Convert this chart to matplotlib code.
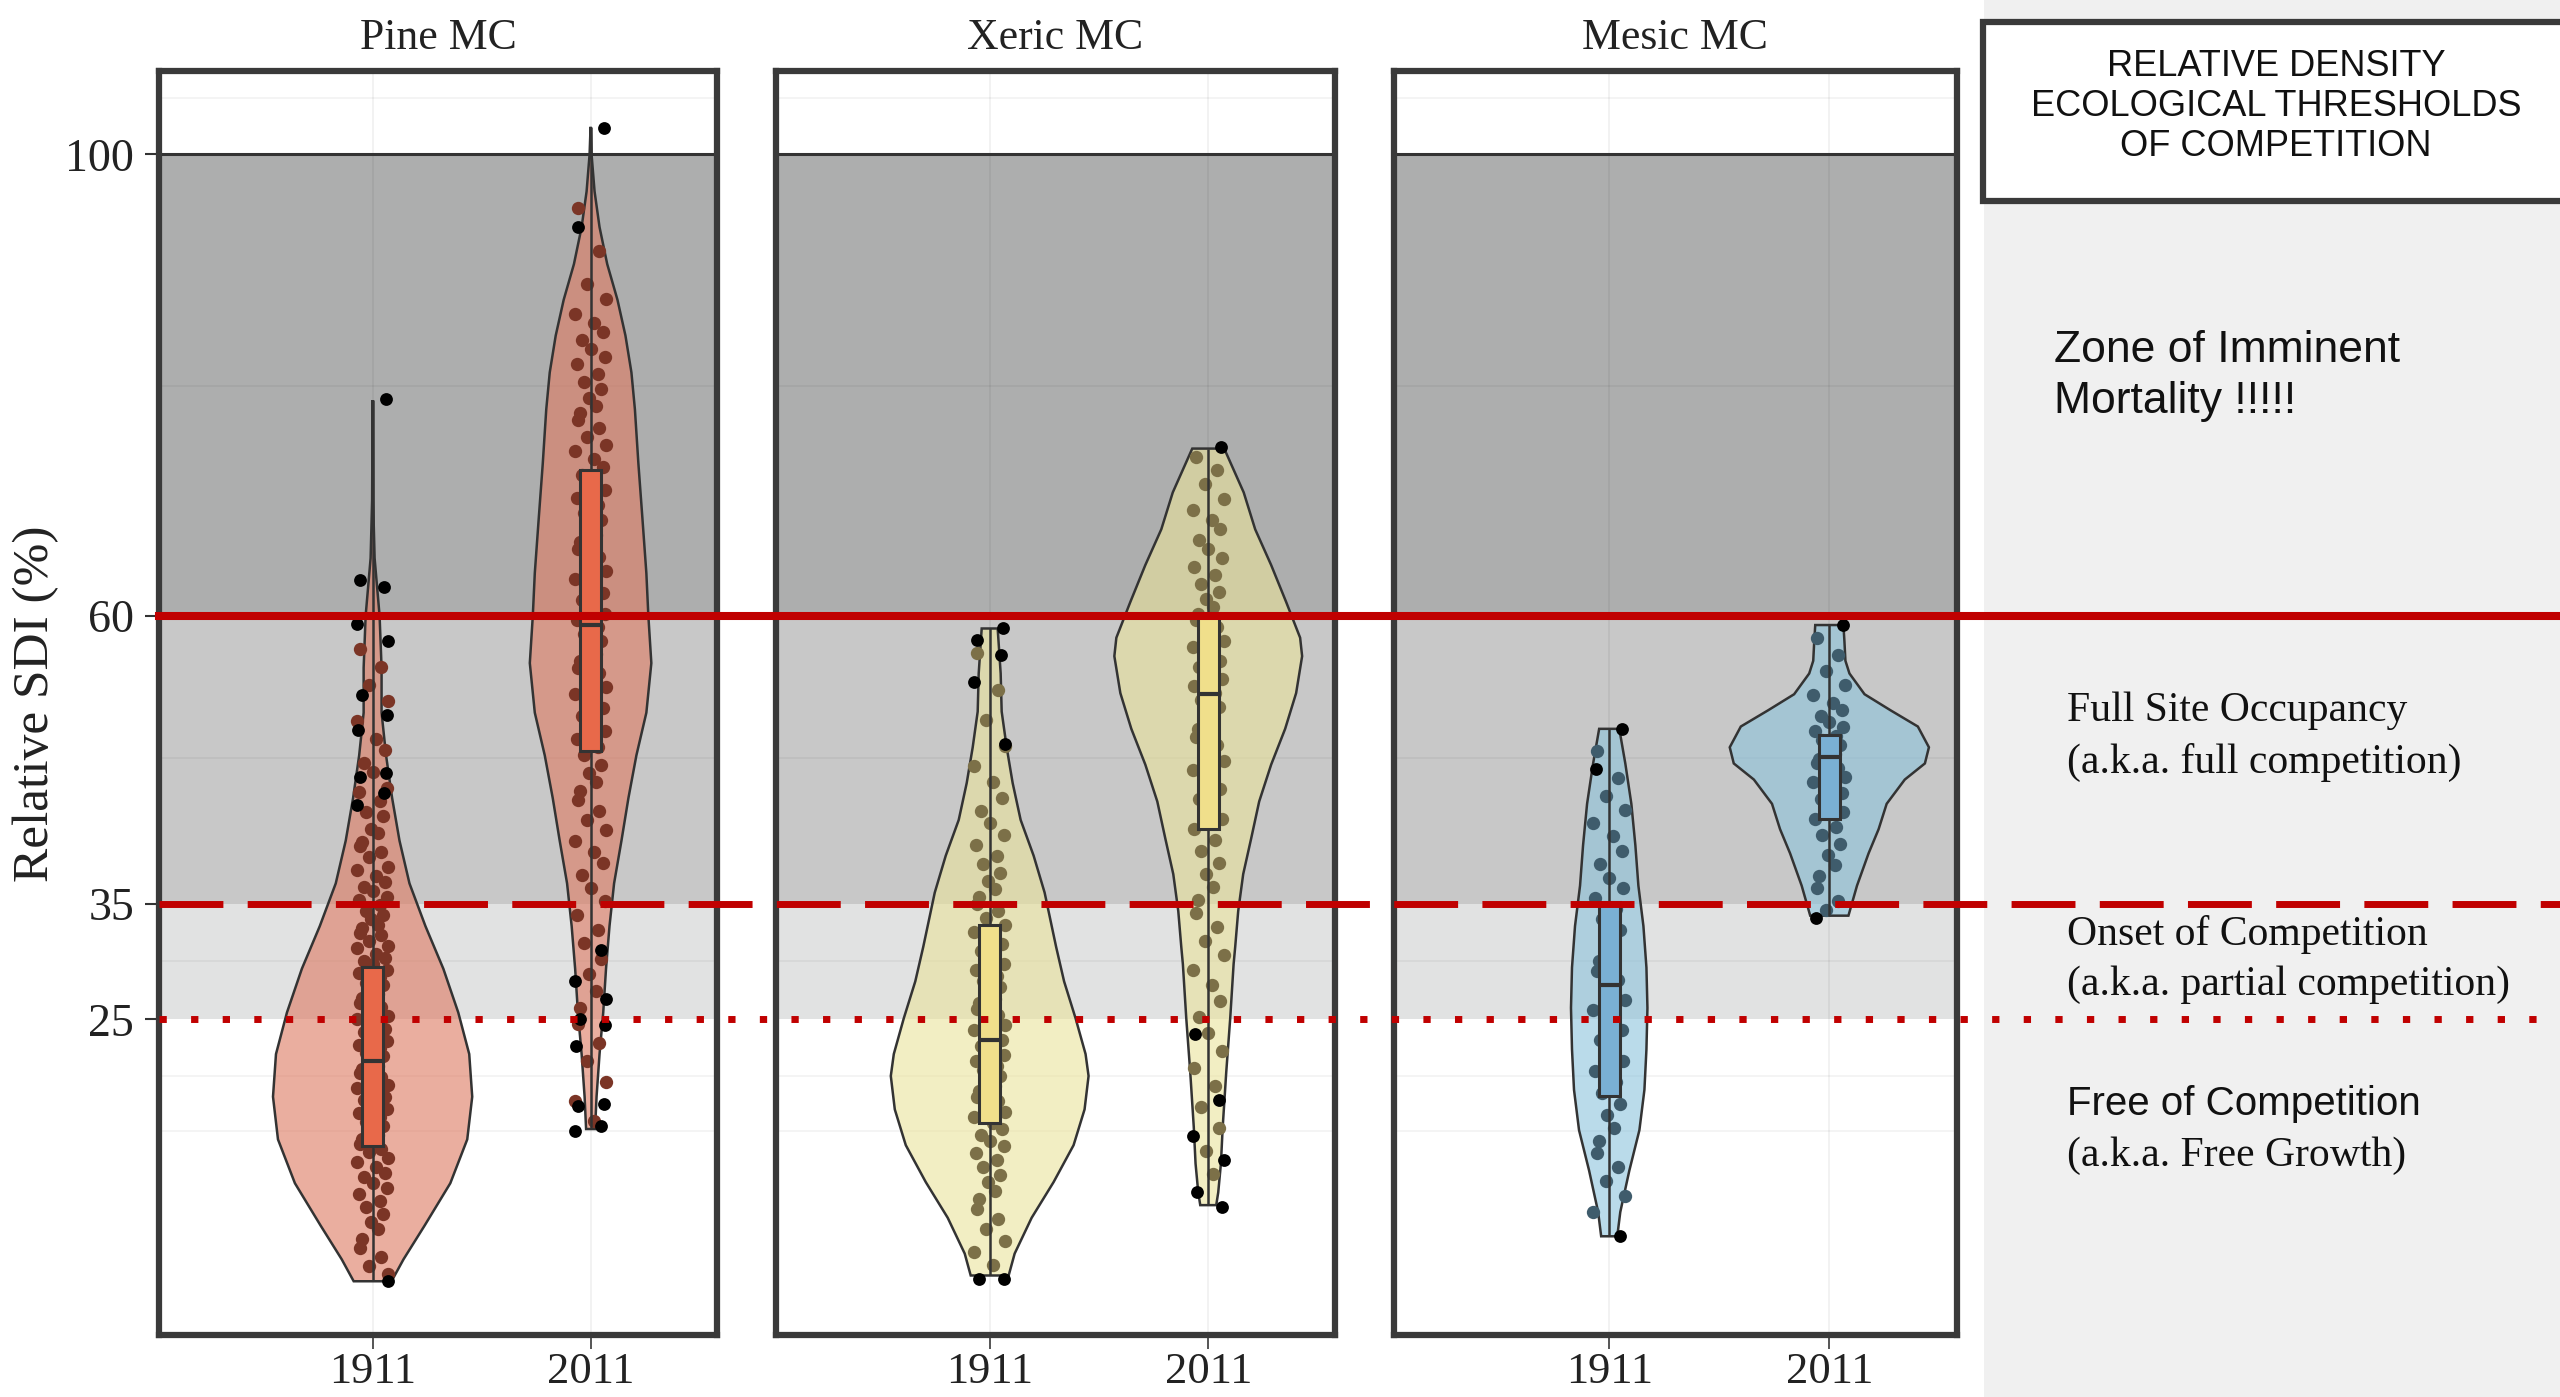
import matplotlib
matplotlib.use('agg')
import matplotlib.pyplot as plt
from matplotlib.lines import Line2D
from matplotlib.patches import Polygon, Rectangle
from matplotlib.transforms import blended_transform_factory


OUTPUT_FILE = 'out.png'
W, H = 2560, 1397
SERIF = 'Liberation Serif'
SANS = 'Liberation Sans'

STANDS = ['Pine MC', 'Xeric MC', 'Mesic MC']
YEARS = ['1911', '2011']
THRESHOLDS = [25, 35, 60, 100]          # onset, full occupancy, imminent mortality, max

# violin outlines: relative SDI levels (top to bottom) and relative half widths
PINE_1911_SDI = [78.7, 70, 65, 60, 55.5, 51.6, 47.9, 44.2, 40.5, 36.8, 33.1, 29.4,
                 25.6, 22.0, 18.3, 14.6, 10.8, 7.1, 4.2, 2.3]
PINE_1911_WID = [0.0, 0.005, 0.02, 0.07, 0.09, 0.09, 0.135, 0.196, 0.27, 0.37, 0.53, 0.71,
                 0.86, 0.97, 1.0, 0.95, 0.78, 0.52, 0.31, 0.19]
PINE_2011_SDI = [102.4, 100, 96.8, 93.7, 90.5, 87.4, 84.3, 81.1, 77.9, 73.2, 68.5, 63.7,
                 60.0, 55.9, 51.6, 47.9, 44.2, 40.5, 36.8, 33.1, 29.4, 25.6, 22.0, 18.3, 15.5]
PINE_2011_WID = [0.0, 0.01, 0.04, 0.09, 0.167, 0.27, 0.35, 0.41, 0.445, 0.48, 0.52, 0.56,
                 0.58, 0.61, 0.56, 0.46, 0.38, 0.31, 0.236, 0.19, 0.155, 0.127, 0.09, 0.06, 0.045]
XERIC_1911_SDI = [58.9, 55.0, 51.7, 48.6, 45.5, 42.3, 39.2, 36.0, 31.3, 28.3, 25.1, 22.0,
                  20.1, 17.2, 14.1, 10.9, 7.8, 4.7, 2.8]
XERIC_1911_WID = [0.08, 0.11, 0.12, 0.17, 0.23, 0.31, 0.44, 0.55, 0.665, 0.745, 0.86, 0.96,
                  0.99, 0.95, 0.84, 0.64, 0.42, 0.25, 0.19]
XERIC_2011_SDI = [74.5, 70.7, 67.5, 64.4, 61.2, 58.1, 56.5, 53.3, 50.2, 47.1, 43.9, 40.7,
                  37.6, 34.4, 31.3, 29.8, 25.1, 20.4, 15.7, 12.5, 10.0, 8.9]
XERIC_2011_WID = [0.16, 0.355, 0.47, 0.63, 0.78, 0.92, 0.94, 0.88, 0.77, 0.63, 0.51, 0.43,
                  0.35, 0.30, 0.27, 0.254, 0.22, 0.18, 0.145, 0.127, 0.10, 0.08]
MESIC_1911_SDI = [50.2, 47.2, 43.7, 40.1, 36.6, 33.1, 29.5, 26.0, 22.4, 18.9, 15.4, 11.9, 8.3, 6.2]
MESIC_1911_WID = [0.10, 0.16, 0.22, 0.26, 0.29, 0.34, 0.37, 0.38, 0.37, 0.35, 0.30, 0.20, 0.11, 0.08]
MESIC_2011_SDI = [59.2, 57.8, 56.1, 55.0, 53.2, 51.8, 50.4, 48.6, 47.2, 45.8, 43.7, 41.5,
                  39.4, 36.6, 34.0]
MESIC_2011_WID = [0.14, 0.15, 0.16, 0.20, 0.35, 0.61, 0.88, 0.99, 0.95, 0.75, 0.57, 0.49,
                  0.39, 0.275, 0.19]

# box stats: whisker low, Q1, median, Q3, whisker high
PINE_1911_BOX = [2.3, 14.0, 21.4, 29.55, 78.7]
PINE_2011_BOX = [15.5, 48.3, 59.2, 72.6, 102.4]
XERIC_1911_BOX = [2.8, 16.0, 23.2, 33.2, 58.9]
XERIC_2011_BOX = [8.9, 41.5, 53.2, 60.0, 74.5]
MESIC_1911_BOX = [6.2, 18.4, 28.0, 35.2, 50.2]
MESIC_2011_BOX = [34.0, 42.4, 47.8, 49.7, 59.2]

# plot-level relative SDI
PINE_1911_PTS = [57.1, 55.6, 54.0, 52.6, 50.9, 49.3, 48.4, 47.2, 46.5, 45.1,
                 44.7, 43.9, 43.0, 42.6, 41.5, 41.2, 40.4, 40.0, 39.5, 39.1,
                 38.2, 38.0, 37.4, 36.9, 36.5, 36.1, 35.6, 35.4, 34.9, 34.4,
                 34.1, 33.7, 33.2, 32.9, 32.5, 32.3, 31.8, 31.4, 31.2, 30.7,
                 30.3, 30.1, 29.8, 29.3, 29.0, 28.7, 28.2, 28.0, 27.6, 27.2,
                 26.9, 26.4, 26.1, 25.8, 25.3, 25.0, 24.6, 24.2, 23.9, 23.7,
                 23.1, 22.8, 22.5, 22.1, 21.8, 21.5, 21.0, 20.7, 20.4, 20.0,
                 19.7, 19.3, 19.1, 18.6, 18.3, 18.0, 17.6, 17.2, 16.9, 16.5,
                 16.1, 15.8, 15.3, 15.0, 14.6, 14.2, 13.8, 13.5, 13.0, 12.6,
                 12.2, 11.7, 11.3, 10.8, 10.4, 9.9, 9.3, 8.7, 8.1, 7.4,
                 6.8, 6.0, 5.2, 4.4, 3.6, 2.9]
PINE_2011_PTS = [95.4, 91.6, 88.8, 87.5, 86.2, 85.4, 84.6, 83.9, 83.1, 82.4,
                 81.8, 81.0, 80.3, 79.7, 78.9, 78.2, 77.6, 77.0, 76.3, 75.5,
                 74.8, 74.3, 73.6, 72.9, 72.2, 71.5, 70.9, 70.2, 69.6, 68.9,
                 68.3, 67.6, 67.0, 66.4, 65.8, 65.1, 64.5, 63.9, 63.2, 62.6,
                 62.0, 61.4, 60.8, 60.2, 59.6, 59.0, 58.4, 57.8, 57.3, 56.7,
                 56.1, 55.5, 55.0, 54.4, 53.8, 53.2, 52.6, 52.0, 51.3, 50.7,
                 50.0, 49.3, 48.6, 47.9, 47.1, 46.4, 45.6, 44.8, 44.0, 43.1,
                 42.3, 41.4, 40.5, 39.5, 38.6, 37.5, 36.4, 35.3, 34.1, 32.8,
                 31.6, 30.2, 28.9, 27.5, 26.0, 24.6, 23.0, 21.4, 19.6, 17.9, 16.2]
XERIC_1911_PTS = [56.8, 53.6, 51.0, 48.7, 47.0, 45.6, 44.2, 43.1, 42.0, 41.0,
                  40.1, 39.2, 38.5, 37.7, 37.0, 36.3, 35.6, 35.0, 34.4, 33.8,
                  33.2, 32.6, 32.0, 31.5, 30.9, 30.4, 29.8, 29.3, 28.8, 28.3,
                  27.8, 27.3, 26.8, 26.4, 25.9, 25.4, 25.0, 24.5, 24.1, 23.6,
                  23.2, 22.7, 22.3, 21.9, 21.4, 21.0, 20.6, 20.1, 19.7, 19.2,
                  18.8, 18.3, 17.9, 17.4, 17.0, 16.5, 16.0, 15.5, 15.0, 14.5,
                  14.0, 13.4, 12.8, 12.2, 11.5, 10.9, 10.1, 9.4, 8.6, 7.7,
                  6.8, 5.8, 4.8, 3.7]
XERIC_2011_PTS = [73.8, 72.6, 71.4, 70.1, 69.2, 68.3, 67.5, 66.6, 65.8, 65.0,
                  64.2, 63.5, 62.8, 62.1, 61.5, 60.8, 60.2, 59.6, 59.0, 58.4,
                  57.8, 57.3, 56.7, 56.1, 55.6, 55.0, 54.5, 53.9, 53.3, 52.7,
                  52.1, 51.5, 50.8, 50.2, 49.5, 48.8, 48.1, 47.4, 46.6, 45.8,
                  45.0, 44.1, 43.3, 42.4, 41.5, 40.6, 39.6, 38.6, 37.6, 36.5,
                  35.4, 34.2, 33.0, 31.8, 30.6, 29.3, 28.0, 26.6, 25.2, 23.8,
                  22.3, 20.8, 19.2, 17.4, 15.6, 13.6, 11.6]
MESIC_1911_PTS = [48.3, 45.9, 44.4, 43.2, 42.0, 40.9, 39.6, 38.5, 37.3, 36.4,
                  35.5, 34.6, 33.7, 32.8, 31.9, 31.0, 30.1, 29.2, 28.4, 27.5,
                  26.7, 25.8, 25.0, 24.1, 23.2, 22.3, 21.4, 20.5, 19.6, 18.6,
                  17.7, 16.7, 15.6, 14.5, 13.4, 12.2, 11.0, 9.7, 8.3]
MESIC_2011_PTS = [58.1, 56.6, 55.2, 54.0, 53.1, 52.4, 51.8, 51.3, 50.8, 50.4,
                  50.0, 49.6, 49.2, 48.8, 48.4, 48.0, 47.6, 47.2, 46.8, 46.4,
                  46.0, 45.6, 45.1, 44.6, 44.1, 43.6, 43.0, 42.4, 41.7, 41.0,
                  40.2, 39.3, 38.4, 37.4, 36.4, 35.3, 34.5]

# outlying plots
PINE_1911_OUT = [78.8, 63.1, 62.5, 59.3, 57.8, 53.1, 51.4, 50.1, 46.4, 46.0, 44.6, 43.6, 2.3]
PINE_2011_OUT = [102.3, 93.7, 31.0, 28.3, 26.8, 25.0, 24.5, 22.7, 17.7, 17.5, 15.8, 15.3]
XERIC_1911_OUT = [58.9, 57.9, 56.6, 54.3, 48.9, 2.5, 2.5]
XERIC_2011_OUT = [74.6, 23.7, 18.0, 14.9, 12.8, 10.0, 8.7]
MESIC_1911_OUT = [50.2, 46.7, 6.2]
MESIC_2011_OUT = [59.2, 33.8]

BOX_LINES = ['RELATIVE DENSITY', 'ECOLOGICAL THRESHOLDS', 'OF COMPETITION']

# colours: violin fill, box fill, points
STYLES = [('#de7c64', '#e8694a', '#7b3526'),
          ('#eae39b', '#f0df8b', '#7c7048'),
          ('#8cc3dc', '#7ab0d4', '#3f5c6c')]
VIOLIN_ALPHA = [0.62, 0.6, 0.6]
ZONE_COLORS = ['#e1e2e2', '#c8c8c8', '#adaeae']
RED = '#c00000'
INK = '#333333'

VIOLIN_HALF = 0.457
BOX_HALF = 0.048
JITTER = [-0.056, 0.04, -0.016, 0.072, -0.072, 0.016, 0.056, -0.04, 0.0,
          0.064, -0.064, 0.032, -0.032, 0.048, -0.008, 0.024, -0.048]
OUT_JITTER = [0.06, -0.06, 0.05, -0.07, 0.07, -0.05, 0.065, -0.065]
GRID_LEVELS = [104.9, 79.9, 47.7, 30.1, 20.1, 15.3]

PANEL_X = [(159, 717), (775.5, 1335), (1393.5, 1957)]
PANEL_TOP, PANEL_BOTTOM = 71, 1335

groups = {
    'Pine MC': [(PINE_1911_SDI, PINE_1911_WID, PINE_1911_BOX, PINE_1911_PTS, PINE_1911_OUT),
                (PINE_2011_SDI, PINE_2011_WID, PINE_2011_BOX, PINE_2011_PTS, PINE_2011_OUT)],
    'Xeric MC': [(XERIC_1911_SDI, XERIC_1911_WID, XERIC_1911_BOX, XERIC_1911_PTS, XERIC_1911_OUT),
                 (XERIC_2011_SDI, XERIC_2011_WID, XERIC_2011_BOX, XERIC_2011_PTS, XERIC_2011_OUT)],
    'Mesic MC': [(MESIC_1911_SDI, MESIC_1911_WID, MESIC_1911_BOX, MESIC_1911_PTS, MESIC_1911_OUT),
                 (MESIC_2011_SDI, MESIC_2011_WID, MESIC_2011_BOX, MESIC_2011_PTS, MESIC_2011_OUT)],
}


def fx(px):
    return px / W


def fy(py):
    return 1 - py / H


def draw_group(ax, x, sdi, wid, box, pts, out, style, alpha):
    fill, box_fill, dot_color = style
    left = [(x - w * VIOLIN_HALF, s) for s, w in zip(sdi, wid)]
    right = [(x + w * VIOLIN_HALF, s) for s, w in zip(sdi, wid)]
    face = matplotlib.colors.to_rgba(fill, alpha)
    ax.add_patch(Polygon(left + right[::-1], closed=True, facecolor=face,
                         edgecolor=INK, lw=1.8, zorder=2))

    jit = [JITTER[k % len(JITTER)] for k in range(len(pts))]
    ax.scatter([x + j for j in jit], pts, s=92, color=dot_color, lw=0, zorder=3)

    lo, q1, med, q3, hi = box
    ax.plot([x, x], [lo, hi], color=INK, lw=1.8, zorder=3.5, solid_capstyle='butt')
    ax.add_patch(Rectangle((x - BOX_HALF, q1), 2 * BOX_HALF, q3 - q1, facecolor=box_fill,
                           edgecolor=INK, lw=2.2, zorder=4))
    ax.plot([x - BOX_HALF, x + BOX_HALF], [med, med], color=INK, lw=3, zorder=4.5,
            solid_capstyle='butt')

    ojit = [OUT_JITTER[k % len(OUT_JITTER)] for k in range(len(out))]
    ax.scatter([x + j for j in ojit], out, s=85, color='black', lw=0, zorder=5)


fig = plt.figure(figsize=(W / 100, H / 100), dpi=100)

# legend column on the right
fig.add_artist(Rectangle((fx(1984), 0), 1 - fx(1984), 1, transform=fig.transFigure,
                         facecolor='#f0f0f0', edgecolor='none', zorder=-1))

axes = []
for i, stand in enumerate(STANDS):
    x0, x1 = PANEL_X[i]
    ax = fig.add_axes([fx(x0), fy(PANEL_BOTTOM), (x1 - x0) / W, (PANEL_BOTTOM - PANEL_TOP) / H])
    axes.append(ax)
    ax.set_xlim(0.02, 2.58)
    ax.set_ylim(-2.36, 107.24)

    for lo, hi, c in zip(THRESHOLDS[:-1], THRESHOLDS[1:], ZONE_COLORS):
        ax.axhspan(lo, hi, facecolor=c, edgecolor='none', zorder=0)
    for g in GRID_LEVELS:
        ax.axhline(g, color='black', alpha=0.05, lw=1.2, zorder=0.5)
    for xx in (1, 2):
        ax.axvline(xx, color='black', alpha=0.06, lw=1.2, zorder=0.5)
    ax.axhline(THRESHOLDS[-1], color=INK, lw=2.2, zorder=1)

    for k, (sdi, wid, box, pts, out) in enumerate(groups[stand]):
        draw_group(ax, k + 1, sdi, wid, box, pts, out, STYLES[i], VIOLIN_ALPHA[i])

    ax.set_xticks([1, 2])
    ax.set_xticklabels(YEARS, fontfamily=SERIF, fontsize=32, color='#222222')
    ax.tick_params(axis='x', length=10, width=1.4, color='#555555', pad=2)
    if i == 0:
        ax.set_yticks(THRESHOLDS)
        ax.set_yticklabels([str(t) for t in THRESHOLDS], fontfamily=SERIF, fontsize=33,
                           color='#222222')
        ax.tick_params(axis='y', length=10, width=1.5, color=INK, pad=8)
    else:
        ax.set_yticks([])

    for sp in ax.spines.values():
        sp.set_linewidth(4.5)
        sp.set_color('#3a3a3a')
    ax.set_title(stand, fontfamily=SERIF, fontsize=31.5, color='#222222', pad=16)

fig.text(fx(36), fy(704), 'Relative SDI (%)', rotation=90, ha='center', va='center',
         fontfamily=SERIF, fontsize=37, color='#222222')

# threshold lines run across all panels into the legend column
trans = blended_transform_factory(fig.transFigure, axes[0].transData)
xs = [axes[0].get_position().x0, 1.0]
fig.add_artist(Line2D(xs, [THRESHOLDS[2]] * 2, transform=trans, color=RED, lw=5.8, zorder=10))
fig.add_artist(Line2D(xs, [THRESHOLDS[1]] * 2, transform=trans, color=RED, lw=5,
                      linestyle=(0, (9.2, 3.5)), zorder=10))
fig.add_artist(Line2D(xs, [THRESHOLDS[0]] * 2, transform=trans, color=RED, lw=5,
                      linestyle=(0, (1.05, 3.5)), zorder=10))

# legend title box
fig.add_artist(Rectangle((fx(1983), fy(201)), fx(600), 179 / H, transform=fig.transFigure,
                         facecolor='white', edgecolor='#3a3a3a', lw=4.5, zorder=1))
for line, py in zip(BOX_LINES, [67, 107, 147]):
    fig.text(fx(2276), fy(py), line, ha='center', va='center', fontfamily=SANS,
             fontsize=26, color='#111111', zorder=2)

zone_texts = [
    ('Zone of Imminent', SANS, 32, 2054, 351),
    ('Mortality !!!!!', SANS, 32, 2054, 402),
    ('Full Site Occupancy', SERIF, 30, 2067, 711),
    ('(a.k.a. full competition)', SERIF, 30, 2067, 762),
    ('Onset of Competition', SERIF, 30, 2067, 934),
    ('(a.k.a. partial competition)', SERIF, 30, 2067, 985),
    ('Free of Competition', SANS, 29, 2067, 1104),
    ('(a.k.a. Free Growth)', SERIF, 30, 2067, 1156),
]
for text, family, size, px, py in zone_texts:
    fig.text(fx(px), fy(py), text, ha='left', va='center', fontfamily=family,
             fontsize=size, color='#111111')

plt.savefig(OUTPUT_FILE, dpi=100)
